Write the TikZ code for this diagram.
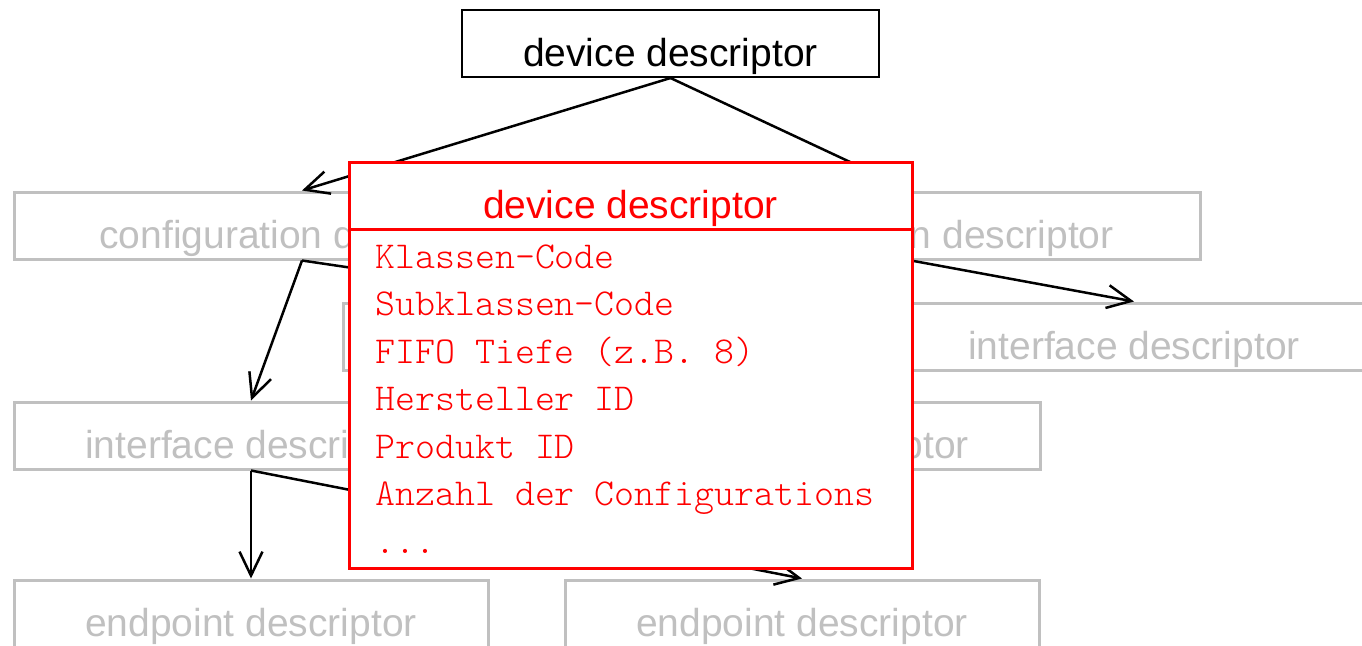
\documentclass[tikz,border=0pt]{standalone}
\usepackage{fontspec}
\setmainfont{Liberation Sans}
\setmonofont{Latin Modern Mono Light}
\usetikzlibrary{arrows.meta}
\definecolor{boxgray}{RGB}{192,192,192}
\definecolor{hlred}{RGB}{255,0,0}
\tikzset{
  descbox/.style={rectangle, draw=boxgray, text=boxgray, line width=1.5pt,
    inner xsep=0pt, inner ysep=0pt, minimum height=33.5pt,
    text height=28pt, text depth=5.5pt,
    font=\fontsize{19.5}{23}\selectfont},
  topbox/.style={descbox, draw=black, text=black, line width=1pt},
  redbox/.style={descbox, draw=hlred, text=hlred, fill=white},
  field/.style={anchor=base west, inner sep=0pt, text=hlred,
    font=\ttfamily\fontsize{19}{23}\selectfont},
  conn/.style={line width=1.25pt, -{Straight Barb[length=12pt,width=11.5pt]}},
}
\begin{document}
\begin{tikzpicture}[x=0.5pt, y=-0.5pt]
\useasboundingbox (0,0) rectangle (1362,645);
\begin{scope}
\clip (0,0) rectangle (1362,645);
% descriptor hierarchy
\node[topbox, minimum width=208.5pt] (dev) at (670.5,43.5) {device descriptor};
\node[descbox, minimum width=288pt] (cfgL) at (302,225.5) {configuration descriptor};
\node[descbox, minimum width=289pt] (cfgR) at (911,225.5) {configuration descriptor};
\node[descbox, minimum width=237pt] (ifM) at (580,336.5) {};
\node[descbox, minimum width=237pt] (ifR) at (1134,336.5) {interface descriptor};
\node[descbox, minimum width=237pt] (ifL) at (251,435.5) {interface descriptor};
\node[descbox, minimum width=237pt] (ifM2) at (803,435.5) {interface descriptor};
\node[descbox, minimum width=237pt] (epL) at (251,613.5) {endpoint descriptor};
\node[descbox, minimum width=237pt] (epR) at (802,613.5) {endpoint descriptor};
% links
\draw[conn] (dev.south) -- (cfgL.north);
\draw[conn] (dev.south) -- (cfgR.north);
\draw[conn] (cfgL.south) -- (ifL.north);
\draw[conn] (cfgL.south) -- (ifM.north);
\draw[conn] (cfgR.south) -- (ifR.north);
\draw[conn] (ifL.south) -- (epL.north);
\draw[conn] (ifL.south) -- (epR.north);
% detail card of the device descriptor
\node[rectangle, draw=hlred, fill=white, line width=1.5pt, inner sep=0pt,
  minimum width=281.5pt, minimum height=169.5pt] (ddb) at (630.5,398.5) {};
\node[redbox, minimum width=281.5pt] (ddt) at (630.5,195.5) {device descriptor};
\node[field] (f0) at (375,268) {Klassen-Code};
\node[field] (f1) at (375,315.5) {Subklassen-Code};
\node[field] (f2) at (375,363) {FIFO Tiefe (z.B. 8)};
\node[field] (f3) at (375,410.5) {Hersteller ID};
\node[field] (f4) at (375,458) {Produkt ID};
\node[field] (f5) at (375,505.5) {Anzahl der Configurations};
\node[field] (f6) at (375,553) {...};
\end{scope}
\end{tikzpicture}
\end{document}
